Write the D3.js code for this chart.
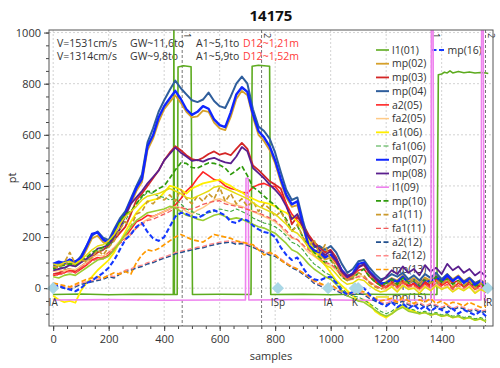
<!DOCTYPE html>
<html><head><meta charset="utf-8">
<script src="https://cdn.jsdelivr.net/npm/d3@7/dist/d3.min.js"></script>
<style>
body{margin:0;background:#fff;}
svg text{font-family:"Open Sans","Noto Sans",sans-serif;fill:#333;}
</style></head><body>
<svg id="c" width="500" height="368"></svg>
<script>
// ---------- data ----------
const chartTitle = "14175";
const samples = d3.range(0, 1561, 20); // sample index of each value below
const mp02 = [80,88,92,98,92,108,150,195,205,180,170,210,250,280,330,380,415,540,585,650,700,728,755,725,690,668,672,695,690,648,625,618,670,740,772,755,668,600,575,540,488,415,355,318,325,238,160,140,130,112,120,100,62,38,50,85,92,58,35,12,25,40,30,50,28,40,18,42,30,52,32,55,35,50,28,42,20,32,18];
const mp03 = [55,60,70,75,65,85,100,120,140,150,165,190,215,240,290,345,370,400,430,460,500,530,555,540,520,505,500,510,525,535,522,528,520,545,568,545,480,462,440,418,405,390,330,250,280,250,210,180,160,140,150,120,70,50,55,85,90,60,35,15,5,25,10,30,5,20,0,25,10,35,15,40,20,30,5,25,0,15,-5];
const mp04 = [88,96,102,108,100,125,165,205,222,198,188,232,272,300,350,400,445,570,625,690,735,775,812,782,758,735,728,738,765,732,712,705,750,800,828,800,700,632,615,585,530,455,385,345,355,265,185,160,165,150,165,140,95,60,75,105,110,80,55,35,40,55,45,60,35,50,30,55,40,60,35,55,30,45,25,40,20,30,15];
const a2_05 = [50,55,60,70,60,75,90,110,120,115,130,150,180,200,230,260,270,285,280,290,300,310,325,350,380,400,430,455,440,425,420,400,390,385,375,372,395,405,410,400,398,370,330,290,265,240,200,175,150,125,130,100,60,40,50,70,75,45,25,10,0,20,5,25,10,15,-5,20,5,30,10,25,0,20,5,15,-5,10,-10];
const fa2_05 = [65,70,68,75,72,85,100,120,130,125,140,160,185,200,215,240,255,270,280,290,300,310,320,315,300,290,305,315,330,345,350,340,330,325,320,310,300,290,280,270,260,240,215,195,190,165,140,125,110,95,90,70,45,30,35,50,45,25,10,0,-5,10,-10,15,0,5,-10,10,-5,15,0,10,-10,5,-5,10,-15,0,-10];
const a1_06 = [-30,-45,-55,-50,-57,-10,20,45,70,90,110,140,180,220,260,295,320,340,345,350,375,400,395,385,370,390,400,410,415,420,425,410,400,385,375,360,350,340,335,330,320,305,295,280,260,230,190,150,120,90,60,30,10,-10,-30,-50,-45,-60,-90,-105,-115,-100,-80,-70,-85,-90,-100,-95,-105,-100,-110,-105,-115,-110,-120,-115,-125,-120,-130];
const fa1_06 = [80,85,75,90,85,100,110,130,145,150,160,190,230,265,300,330,355,375,370,360,355,345,350,330,310,300,290,285,295,300,310,305,300,310,300,290,275,265,255,250,240,225,205,180,170,150,120,95,80,60,50,25,0,-20,-30,-35,-45,-60,-75,-90,-100,-90,-75,-65,-80,-85,-95,-90,-100,-95,-105,-100,-110,-105,-115,-110,-120,-115,-122];
const mp07 = [95,104,98,112,104,118,162,212,218,190,178,222,262,290,342,392,428,555,598,668,712,742,772,740,700,678,690,712,702,660,638,630,688,758,786,768,680,615,590,555,500,428,365,328,340,248,168,148,140,120,132,110,70,45,58,95,100,65,42,18,20,35,25,45,20,30,10,35,22,45,25,50,28,45,20,35,12,25,8];
const mp08 = [70,75,80,90,85,100,115,130,155,160,170,200,230,285,330,355,380,410,435,460,500,525,550,530,515,498,502,495,505,510,500,492,488,515,552,535,470,450,430,405,385,360,320,270,290,240,200,170,150,130,145,110,65,45,55,80,95,60,40,25,45,70,55,85,60,75,50,90,65,80,55,95,70,85,60,75,50,65,45];
const mp10 = [75,85,90,95,90,110,120,140,150,160,175,210,260,290,300,330,360,380,375,390,400,430,462,490,488,472,470,480,490,488,482,470,445,460,478,440,395,380,360,340,325,300,270,225,245,200,160,140,120,100,110,80,45,30,40,60,75,45,25,10,20,35,15,40,20,30,10,35,20,45,25,35,15,30,10,25,5,20,0];
const a1_11 = [85,80,100,140,95,110,105,120,150,130,160,185,230,260,240,290,300,340,330,355,345,365,340,385,350,330,360,340,370,350,395,340,370,330,350,320,340,300,330,310,280,300,260,220,250,200,160,190,130,170,110,90,50,30,45,60,50,20,5,-5,10,25,5,30,15,35,10,40,20,30,15,35,5,25,10,30,0,20,5];
const fa1_11 = [55,50,60,65,60,80,95,105,115,120,140,155,175,190,210,235,250,265,270,280,290,300,312,318,308,310,318,328,335,340,342,330,325,320,315,308,300,295,285,275,265,245,225,200,190,170,150,130,115,100,95,75,50,35,35,45,40,25,10,0,5,15,0,20,5,10,-5,15,0,20,5,15,-5,10,0,15,-5,5,-10];
const a2_12 = [10,5,0,-5,5,15,20,25,30,35,45,40,55,65,70,80,85,95,100,110,118,125,135,140,145,150,155,158,165,170,175,178,180,172,175,168,160,150,140,130,125,110,95,80,70,55,40,20,10,0,5,-10,-20,-30,-25,-20,-25,-40,-50,-60,-65,-55,-60,-50,-65,-70,-60,-75,-65,-70,-80,-70,-85,-75,-80,-90,-85,-95,-90];
const fa2_12 = [15,10,5,0,10,20,25,30,35,40,50,45,60,70,75,85,90,100,105,115,122,130,140,145,150,155,160,163,170,175,180,183,185,178,180,172,165,155,145,135,130,115,100,85,75,60,45,25,15,5,10,-5,-15,-25,-20,-15,-20,-35,-45,-55,-60,-50,-55,-45,-60,-65,-55,-70,-60,-65,-75,-65,-80,-70,-75,-85,-80,-90,-85];
const mp13 = [20,15,10,5,15,25,35,40,45,40,50,60,55,65,55,100,130,150,145,155,170,185,200,210,200,190,185,180,195,210,205,200,195,185,180,175,170,150,130,140,130,110,95,85,75,60,45,30,20,10,15,0,-10,-20,-15,-5,-15,-30,-40,-50,-45,-40,-55,-35,-50,-60,-45,-55,-40,-60,-50,-65,-55,-60,-70,-55,-65,-75,-70];
const mp14 = [45,40,50,55,50,65,80,95,110,115,125,150,180,210,240,265,280,295,300,305,310,320,315,300,285,280,270,265,275,285,290,280,270,275,270,260,250,240,235,225,215,195,175,150,140,120,95,75,60,45,35,15,-10,-30,-40,-50,-55,-70,-85,-100,-110,-100,-85,-75,-90,-95,-100,-95,-105,-100,-110,-105,-115,-110,-120,-115,-125,-120,-130];
const mp15 = [95,90,100,105,95,110,130,150,165,170,185,210,250,280,300,320,345,360,365,370,380,390,380,370,355,350,360,370,380,395,400,390,380,370,360,350,335,320,310,300,290,270,250,225,215,190,160,130,110,90,80,55,30,15,20,35,30,10,-5,-15,-10,5,-15,10,-5,0,-20,5,-10,10,-5,5,-15,0,-10,5,-20,-5,-15];
const mp16 = [5,10,0,-5,-12,0,20,30,45,60,80,110,150,190,210,240,255,220,195,185,200,240,280,295,290,280,275,285,300,305,295,285,260,255,270,265,245,230,220,215,200,160,130,110,120,80,50,35,30,40,45,20,-10,-25,-15,5,0,-25,-45,-60,-70,-55,-75,-60,-80,-65,-85,-70,-90,-75,-85,-95,-80,-100,-85,-95,-105,-90,-110];
// step signals (own sample positions)
const l1_01_x = [0,100,200,300,433,435,437,447,450,470,497,502,600,713,717,740,780,784,900,1000,1100,1200,1300,1383,1388,1400,1410,1420,1430,1440,1460,1480,1500,1520,1540,1560,1568];
const l1_01_y = [-25,-23,-26,-24,-25,1008,-25,-25,865,870,866,-25,-24,-25,868,872,868,-25,-24,-26,-23,-25,-24,-25,835,838,845,842,850,842,848,843,846,842,844,842,840];
const l1_09_x = [0,200,400,600,693,695,703,705,900,1100,1300,1361,1363,1369,1371,1373,1450,1542,1544,1550,1552,1554,1568];
const l1_09_y = [-46,-45,-47,-46,-46,430,430,-46,-45,-47,-46,-46,1030,1030,340,-46,-46,-46,1030,1030,340,-46,-46];
const seriesNames = ["l1(01)","mp(02)","mp(03)","mp(04)","a2(05)","fa2(05)","a1(06)","fa1(06)","mp(07)","mp(08)","l1(09)","mp(10)","a1(11)","fa1(11)","a2(12)","fa2(12)","mp(13)","mp(14)","mp(15)","mp(16)"];
// texts
const infoLeft = ["V=1531cm/s","V=1314cm/s"];
const infoGW = ["GW~11,6to","GW~9,8to"];
const infoA1 = ["A1~5,1to","A1~5,9to"];
const infoD12 = ["D12~1,21m","D12~1,52m"];
const markerSamples = [465, 751, 1363, 1558];
const markerLabels = ["1","2","1","2"];
const eventSamples = [0, 810, 991, 1087, 1099, 1566];
const eventLabels = ["IA","ISp","IA","K","","IR"];
const xTicks = [0,200,400,600,800,1000,1200,1400];
const yTicks = [0,200,400,600,800,1000];
const xLabel = "samples", yLabel = "pt";

// ---------- styles ----------
const styles = {
 "l1(01)":{c:"#5dab1f",w:1.6},
 "mp(02)":{c:"#d6a12a",w:1.8},
 "mp(03)":{c:"#d42626",w:1.8},
 "mp(04)":{c:"#2f5e9c",w:2.0},
 "a2(05)":{c:"#ff2424",w:1.6},
 "fa2(05)":{c:"#ffca86",w:1.5},
 "a1(06)":{c:"#ffee00",w:1.8},
 "fa1(06)":{c:"#3fa83f",w:1.1,d:"4,2"},
 "mp(07)":{c:"#1026ff",w:2.4},
 "mp(08)":{c:"#5a1f8e",w:1.8},
 "l1(09)":{c:"#ee82ee",w:1.6},
 "mp(10)":{c:"#2f9a0c",w:1.7,d:"5,2.5"},
 "a1(11)":{c:"#cc9a2c",w:1.7,d:"5,2.5"},
 "fa1(11)":{c:"#f25a5a",w:1.3,d:"5,2.5"},
 "a2(12)":{c:"#22508e",w:1.6,d:"5,2.5"},
 "fa2(12)":{c:"#ff8a8a",w:1.4,d:"5,2.5"},
 "mp(13)":{c:"#ff9a00",w:1.7,d:"5,2.5"},
 "mp(14)":{c:"#9acd32",w:1.6},
 "mp(15)":{c:"#e6dc10",w:1.5},
 "mp(16)":{c:"#1438ff",w:2.1,d:"5,2.5"}
};
const valueSeries = {
 "mp(02)":mp02,"mp(03)":mp03,"mp(04)":mp04,"a2(05)":a2_05,"fa2(05)":fa2_05,"a1(06)":a1_06,
 "fa1(06)":fa1_06,"mp(07)":mp07,"mp(08)":mp08,"mp(10)":mp10,"a1(11)":a1_11,"fa1(11)":fa1_11,
 "a2(12)":a2_12,"fa2(12)":fa2_12,"mp(13)":mp13,"mp(14)":mp14,"mp(15)":mp15,"mp(16)":mp16
};

// ---------- layout ----------
const svg = d3.select("#c");
const L=49, R=493, T=30, B=326;
const x = d3.scaleLinear().domain([-15,1585]).range([L,R]);
const y = d3.scaleLinear().domain([-148,1010]).range([B,T]);

svg.append("text").attr("x",(L+R)/2).attr("y",21).attr("text-anchor","middle")
  .style("font-size","15px").style("font-weight","bold").style("fill","#111").text(chartTitle);

svg.append("defs").append("clipPath").attr("id","clip")
  .append("rect").attr("x",L).attr("y",T).attr("width",R-L).attr("height",B-T);

// grid
const g = svg.append("g");
g.selectAll(".gx").data(xTicks).enter().append("line")
  .attr("x1",d=>x(d)).attr("x2",d=>x(d)).attr("y1",T).attr("y2",B)
  .attr("stroke","#c8c8c8").attr("stroke-width",0.8).attr("stroke-dasharray","2,2");
g.selectAll(".gy").data(yTicks).enter().append("line")
  .attr("y1",d=>y(d)).attr("y2",d=>y(d)).attr("x1",L).attr("x2",R)
  .attr("stroke","#c8c8c8").attr("stroke-width",0.8).attr("stroke-dasharray","2,2");

// axes
const fmt = d3.format("d");
const xAxis = d3.axisBottom(x).tickValues(xTicks).tickSize(5).tickPadding(4).tickFormat(fmt);
const xMinor = d3.axisBottom(x).tickValues(d3.range(0,1561,50)).tickSize(3).tickFormat("");
const yAxis = d3.axisLeft(y).tickValues(yTicks).tickSize(5).tickPadding(3).tickFormat(fmt);
const yMinor = d3.axisLeft(y).tickValues(d3.range(-100,1001,50)).tickSize(3).tickFormat("");
function styleAxis(sel){ sel.select(".domain").remove(); sel.selectAll("line").attr("stroke","#444");
  sel.selectAll("text").style("font-size","11px").style("fill","#333").style("font-family","'Open Sans',sans-serif"); }
svg.append("g").attr("transform",`translate(0,${B})`).call(xMinor).call(styleAxis);
svg.append("g").attr("transform",`translate(0,${B})`).call(xAxis).call(styleAxis);
svg.append("g").attr("transform",`translate(${L},0)`).call(yMinor).call(styleAxis);
svg.append("g").attr("transform",`translate(${L},0)`).call(yAxis).call(styleAxis);

svg.append("text").attr("x",(L+R)/2).attr("y",360).attr("text-anchor","middle").style("font-size","11px").text(xLabel);
svg.append("text").attr("transform",`translate(16,${(T+B)/2}) rotate(-90)`).attr("text-anchor","middle").style("font-size","11px").text(yLabel);

// legend (drawn beneath data)
const lg = svg.append("g");
seriesNames.forEach((n,i)=>{
  const s = styles[n];
  let lx, ly;
  if(n==="mp(16)"){ lx=431.5; ly=50; } else { lx=376; ly=50+i*13.72; }
  lg.append("line").attr("x1",lx).attr("x2",lx+13).attr("y1",ly).attr("y2",ly)
    .attr("stroke",s.c).attr("stroke-width",Math.min(s.w,2)).attr("stroke-dasharray",s.d?"5,2.5":null);
  lg.append("text").attr("x",lx+16).attr("y",ly).attr("dy","0.35em").style("font-size","10.5px").text(n);
});

// marker lines
const mk = svg.append("g");
markerSamples.forEach((m,i)=>{
  mk.append("line").attr("x1",x(m)).attr("x2",x(m)).attr("y1",T).attr("y2",B)
    .attr("stroke","#666").attr("stroke-width",0.9).attr("stroke-dasharray","3,2");
  mk.append("text").attr("transform",`translate(${x(m)+2},${T+3}) rotate(90)`).style("font-size","9px").text(markerLabels[i]);
});

// annotations
const an = svg.append("g").style("font-size","10.5px");
[[infoLeft,57,"#333"],[infoGW,130,"#333"],[infoA1,196,"#333"],[infoD12,243,"#ff3a3a"]].forEach(([arr,px,col])=>{
  arr.forEach((t,i)=> an.append("text").attr("x",px).attr("y",47+i*13).style("fill",col).text(t));
});

// data
const plot = svg.append("g").attr("clip-path","url(#clip)");
const lineV = d3.line().x((d,i)=>x(samples[i])).y(d=>y(d));
const lineXY = xs => d3.line().x((d,i)=>x(xs[i])).y(d=>y(d));
seriesNames.forEach(n=>{
  const s = styles[n];
  let dstr;
  if(n==="l1(01)") dstr = lineXY(l1_01_x)(l1_01_y);
  else if(n==="l1(09)") dstr = lineXY(l1_09_x)(l1_09_y);
  else dstr = lineV(valueSeries[n]);
  plot.append("path").attr("d",dstr).attr("fill","none").attr("stroke",s.c)
    .attr("stroke-width",s.w).attr("stroke-dasharray",s.d||null).attr("stroke-linejoin","round");
});

// event diamonds
const ev = svg.append("g");
eventSamples.forEach((e,i)=>{
  ev.append("path").attr("d",d3.symbol(d3.symbolDiamond2,95)())
    .attr("transform",`translate(${x(e)},${y(0)})`).attr("fill","#a9d7e6");
  if(eventLabels[i]) ev.append("text").attr("x",x(e)).attr("y",306).attr("text-anchor","middle")
    .style("font-size","10px").text(eventLabels[i]);
});

// frame
svg.append("rect").attr("x",L).attr("y",T).attr("width",R-L).attr("height",B-T)
  .attr("fill","none").attr("stroke","#555").attr("stroke-width",1);
</script></body></html>
